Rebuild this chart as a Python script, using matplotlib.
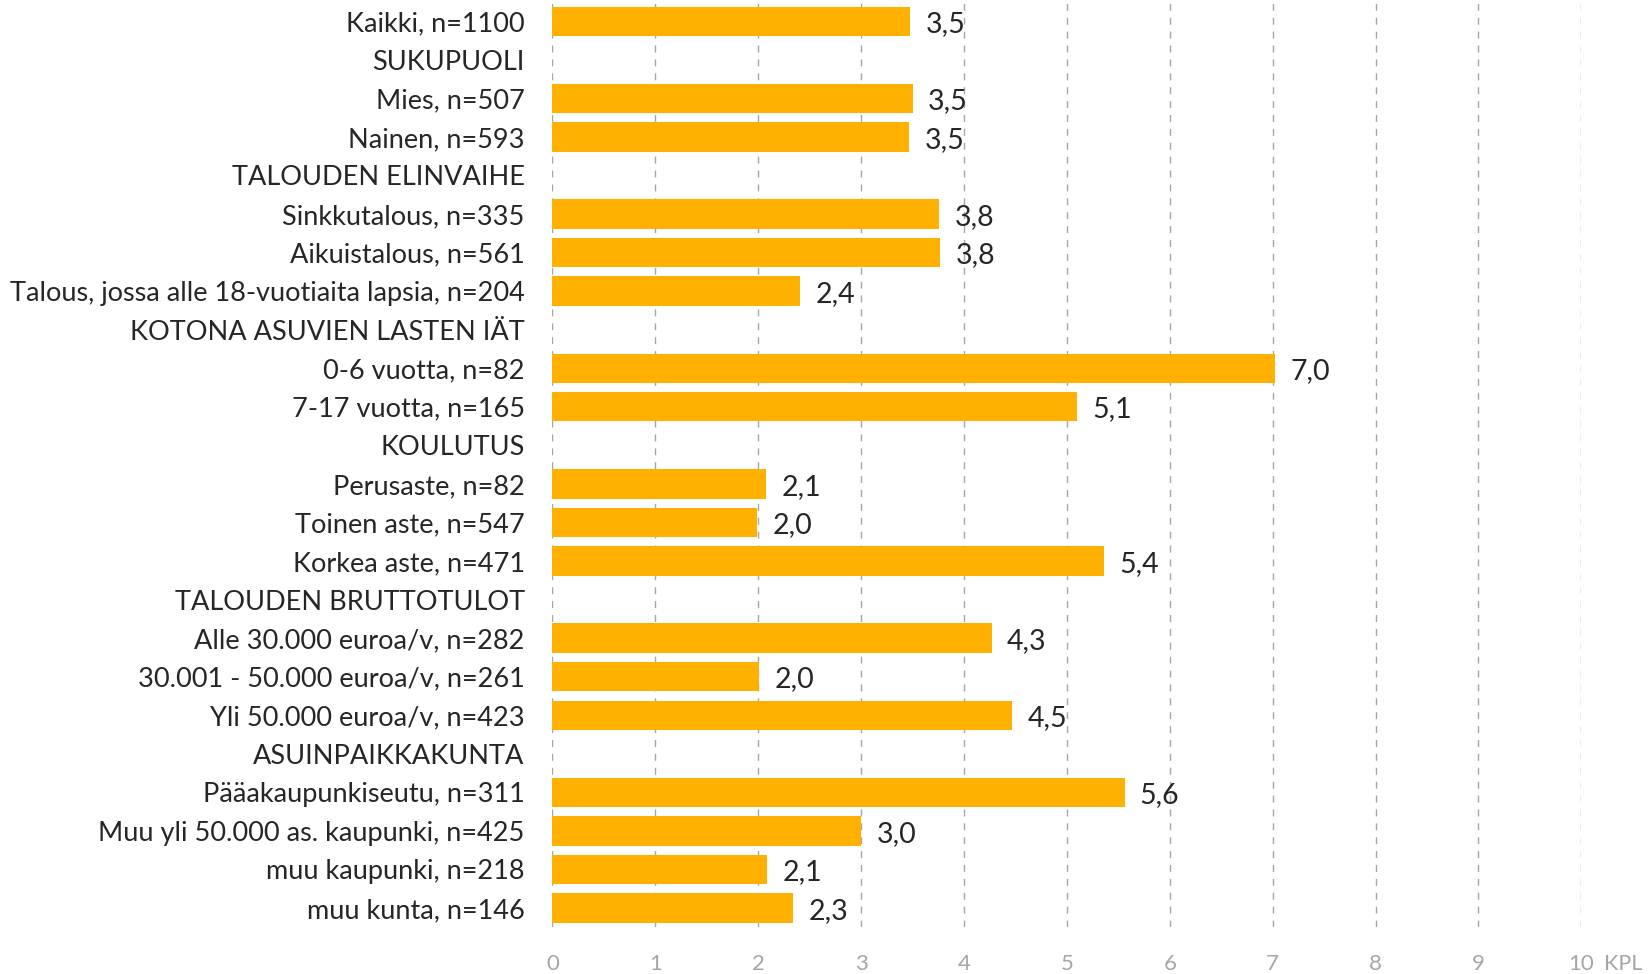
import matplotlib
matplotlib.use("Agg")
import matplotlib.pyplot as plt
import numpy as np

plt.rcParams["font.family"] = ["Lato", "DejaVu Sans"]

# rivit ylhäältä alas; None = otsikkorivi ilman palkkia
labels = [
    "Kaikki, n=1100",
    "SUKUPUOLI",
    "Mies, n=507",
    "Nainen, n=593",
    "TALOUDEN ELINVAIHE",
    "Sinkkutalous, n=335",
    "Aikuistalous, n=561",
    "Talous, jossa alle 18-vuotiaita lapsia, n=204",
    "KOTONA ASUVIEN LASTEN IÄT",
    "0-6 vuotta, n=82",
    "7-17 vuotta, n=165",
    "KOULUTUS",
    "Perusaste, n=82",
    "Toinen aste, n=547",
    "Korkea aste, n=471",
    "TALOUDEN BRUTTOTULOT",
    "Alle 30.000 euroa/v, n=282",
    "30.001 - 50.000 euroa/v, n=261",
    "Yli 50.000 euroa/v, n=423",
    "ASUINPAIKKAKUNTA",
    "Pääakaupunkiseutu, n=311",
    "Muu yli 50.000 as. kaupunki, n=425",
    "muu kaupunki, n=218",
    "muu kunta, n=146",
]
values = [
    3.48, None, 3.50, 3.47, None, 3.76, 3.77, 2.41, None, 7.02, 5.10, None,
    2.08, 1.99, 5.36, None, 4.27, 2.01, 4.47, None, 5.56, 3.00, 2.09, 2.34,
]
x_ticks = list(range(0, 11))

BAR = "#FFB000"
TXT = "#262626"
GRID = "#A6A6A6"

fig = plt.figure(figsize=(16.49, 9.74), dpi=100)
ax = fig.add_axes([0.335, 0.048, 0.624, 0.950])

y = np.arange(len(labels))
for yi, v in zip(y, values):
    if v is None:
        continue
    ax.barh(yi, v, height=0.76, color=BAR, zorder=3)
    ax.annotate(f"{v:.1f}".replace(".", ","), xy=(v, yi), xytext=(11, -2),
                textcoords="offset points", ha="left", va="center",
                fontsize=20.5, color=TXT, zorder=4)

ax.set_ylim(len(labels) - 0.5, -0.5)
ax.set_xlim(0, 10)
ax.set_yticks(y)
ax.set_yticklabels(labels, fontsize=19.5, color=TXT)
ax.tick_params(axis="y", length=0, pad=20)
ax.set_xticks(x_ticks)
ax.set_xticklabels([str(t) for t in x_ticks], fontsize=16, color=GRID)
ax.tick_params(axis="x", length=0, pad=19)

for t in x_ticks:
    ax.axvline(t, color=GRID, lw=1.0, ls=(0, (5, 5)), zorder=1)

for s in ax.spines.values():
    s.set_visible(False)

ax.annotate("KPL", xy=(10, 0), xycoords=("data", "axes fraction"),
            xytext=(16, -19), textcoords="offset points", ha="left", va="top",
            fontsize=15.5, color=GRID)

fig.savefig("out.png", dpi=100, facecolor="white")
